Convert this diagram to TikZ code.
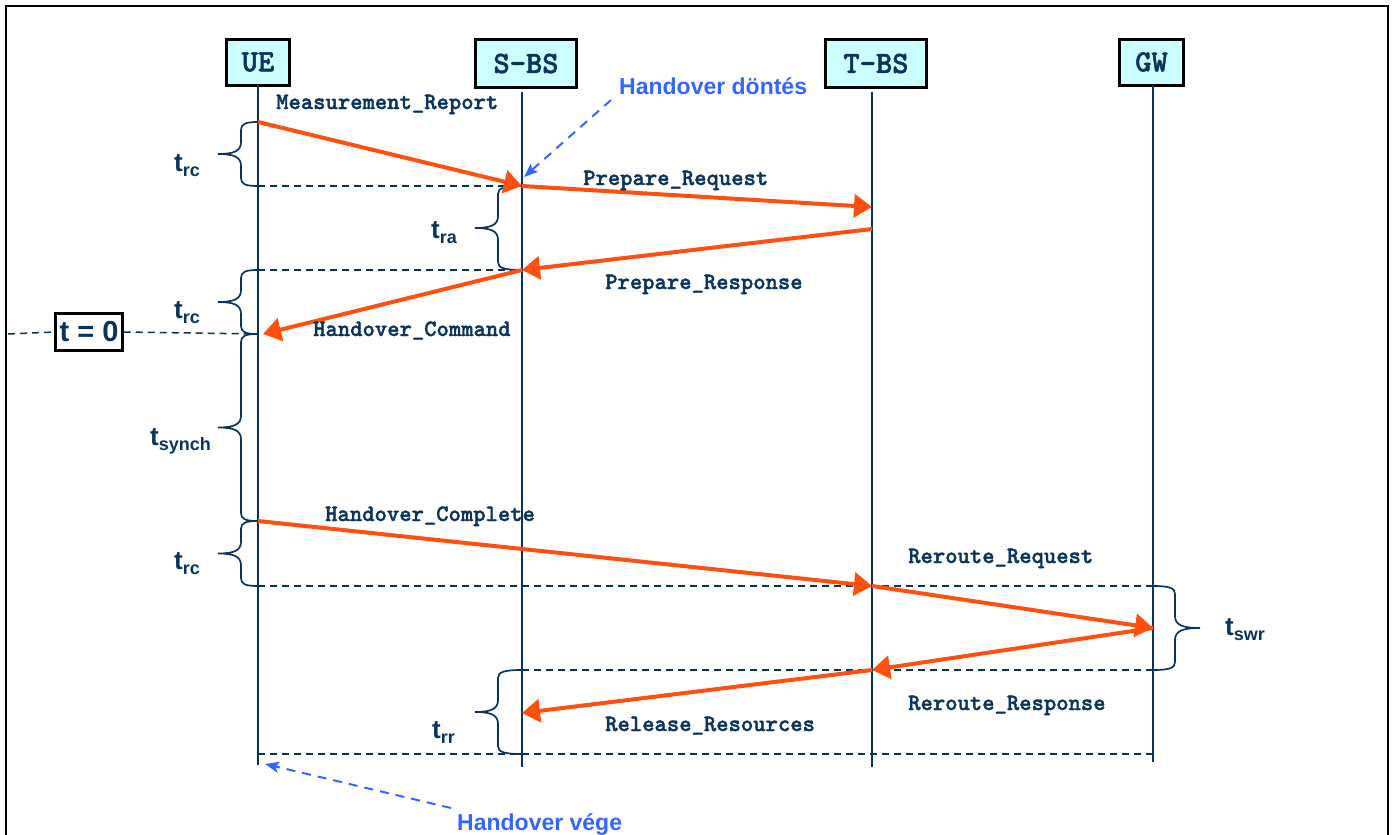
\documentclass[tikz,border=0pt]{standalone}
\usepackage{fontspec}
\setmainfont{Liberation Sans}
\newfontfamily\msgfont{lmmonolt10-bold.otf}[FakeBold=1.6]
\usetikzlibrary{arrows.meta}

\definecolor{navy}{RGB}{10,52,92}
\definecolor{msgorange}{RGB}{255,80,16}
\definecolor{noteblue}{RGB}{51,102,255}
\definecolor{headfill}{RGB}{204,255,255}

% time label: bold t with a lowered subscript
\newcommand{\tlab}[1]{t\raisebox{-5pt}{\fontsize{18}{20}\selectfont #1}}

\tikzset{
  entity/.style={draw=black, line width=3pt, fill=headfill, text=navy,
    font=\msgfont\fontsize{31}{34}\selectfont, inner sep=0pt, outer sep=0pt},
  lifeline/.style={navy, line width=1.8pt},
  msg/.style={msgorange, line width=4pt, -{Triangle[length=18pt,width=23pt]}},
  guide/.style={navy, line width=1.5pt, dash pattern=on 7pt off 5pt},
  msglabel/.style={text=navy, font=\msgfont\fontsize{23.5}{25}\selectfont, inner sep=0pt},
  bracepen/.style={navy, line width=1.7pt},
  timelabel/.style={text=navy, font=\bfseries\fontsize{26}{28}\selectfont, inner sep=0pt},
  note/.style={noteblue, line width=2pt, dash pattern=on 9pt off 7pt,
    -{Stealth[length=14pt,width=11pt,inset=3pt]}},
  notelabel/.style={text=noteblue, font=\bfseries\fontsize{23}{25}\selectfont, inner sep=0pt},
  zerobox/.style={draw=black, line width=2.5pt, fill=white, text=navy,
    font=\bfseries\fontsize{29}{31}\selectfont, minimum width=67pt, minimum height=37pt,
    inner sep=0pt},
  frame/.style={black, line width=2.5pt},
  % curly brace hanging off a lifeline: #1 length, #2 offset of the straight part, #3 offset of the tip
  pics/tbrace/.style n args={3}{code={
    \draw[bracepen] (0,0) .. controls ({0.75*(#2)},0) and ({#2},2) .. ({#2},8)
      -- ({#2},{#1/2-12}) .. controls ({#2},{#1/2-3}) and ({0.7*(#2)+0.3*(#3)},{#1/2}) .. ({#3},{#1/2})
      .. controls ({0.7*(#2)+0.3*(#3)},{#1/2}) and ({#2},{#1/2+3}) .. ({#2},{#1/2+12})
      -- ({#2},{#1-8}) .. controls ({#2},{#1-2}) and ({0.75*(#2)},{#1}) .. (0,{#1});
  }},
}

\begin{document}
\begin{tikzpicture}[x=1pt,y=-1pt]
\useasboundingbox (0,0) rectangle (1392,835);

% outer frame (open at the bottom)
\draw[frame] (6,835) -- (6,6) -- (1388,6) -- (1388,835);

% participants
\node[entity, minimum width=63pt, minimum height=46pt] (UE) at (258,62) {UE};
\node[entity, minimum width=101pt, minimum height=48pt] (SBS) at (526,63.5) {S-BS};
\node[entity, minimum width=101pt, minimum height=48pt] (TBS) at (876,63.5) {T-BS};
\node[entity, minimum width=64pt, minimum height=46pt] (GW) at (1151.5,62) {GW};

% lifeline ends
\coordinate (ue-end) at (258,765);
\coordinate (sbs-end) at (522,767);
\coordinate (tbs-end) at (872,767);
\coordinate (gw-end) at (1153,762);

% message events on the lifelines
\coordinate (ue1) at (258,122);
\coordinate (sb1) at (522,186);
\coordinate (tb1) at (872,207);
\coordinate (tb2) at (872,229);
\coordinate (sb2) at (522,270);
\coordinate (ue2) at (258,334);
\coordinate (ue2tip) at (263,334);
\coordinate (ue3) at (258,521);
\coordinate (tb3) at (872,586);
\coordinate (gw1) at (1153,628);
\coordinate (tb4) at (872,670);
\coordinate (sb3) at (522,713);
\coordinate (end-ue) at (258,754);
\coordinate (end-gw) at (1153,754);
\coordinate (axis-start) at (8,334);

% lifelines
\draw[lifeline] (UE.south -| ue-end) -- (ue-end);
\draw[lifeline] ([yshift=-4pt]SBS.south -| sbs-end) -- (sbs-end);
\draw[lifeline] ([yshift=-4pt]TBS.south -| tbs-end) -- (tbs-end);
\draw[lifeline] (GW.south -| gw-end) -- (gw-end);

% dashed time guides
\node[zerobox] (tzero) at (89,332) {t = 0};
\draw[guide] (axis-start) -- (tzero.west);
\draw[guide] (tzero.east) -- (ue2);
\draw[guide] (ue1 |- sb1) -- (sb1);
\draw[guide] (ue1 |- sb2) -- (sb2);
\draw[guide] (ue1 |- tb3) -- (gw1 |- tb3);
\draw[guide] (sb1 |- tb4) -- (gw1 |- tb4);
\draw[guide] (end-ue) -- (end-gw);

% braces
\pic at (ue1) {tbrace={64}{-17}{-40}};
\pic at (sb1) {tbrace={84}{-24}{-47}};
\pic at (ue1 |- sb2) {tbrace={64}{-17}{-40}};
\pic at (ue2) {tbrace={187}{-17}{-40}};
\pic at (ue3) {tbrace={65}{-17}{-40}};
\pic at (gw1 |- tb3) {tbrace={84}{22}{47}};
\pic at (sb1 |- tb4) {tbrace={84}{-24}{-47}};

% time labels
\node[timelabel, anchor=base east] (l-rc1) at (200,171) {\tlab{rc}};
\node[timelabel, anchor=base east] (l-ra) at (457,238) {\tlab{ra}};
\node[timelabel, anchor=base east] (l-rc2) at (200,318) {\tlab{rc}};
\node[timelabel, anchor=base east] (l-synch) at (211,445) {\tlab{synch}};
\node[timelabel, anchor=base east] (l-rc3) at (200,569) {\tlab{rc}};
\node[timelabel, anchor=base west] (l-swr) at (1225,635) {\tlab{swr}};
\node[timelabel, anchor=base east] (l-rr) at (455,738) {\tlab{rr}};

% messages
\draw[msg] (ue1) -- (sb1);
\draw[msg] (sb1) -- (tb1);
\draw[msg] (tb2) -- (sb2);
\draw[msg] (sb2) -- (ue2tip);
\draw[msg] (ue3) -- (tb3);
\draw[msg] (tb3) -- (gw1);
\draw[msg] (gw1) -- (tb4);
\draw[msg] (tb4) -- (sb3);

% message labels
\node[msglabel, anchor=base west] (m1) at (276,109) {Measurement\_Report};
\node[msglabel, anchor=base west] (m2) at (583,185) {Prepare\_Request};
\node[msglabel, anchor=base west] (m3) at (605,289) {Prepare\_Response};
\node[msglabel, anchor=base west] (m4) at (313,336) {Handover\_Command};
\node[msglabel, anchor=base west] (m5) at (325,521) {Handover\_Complete};
\node[msglabel, anchor=base west] (m6) at (908,563) {Reroute\_Request};
\node[msglabel, anchor=base west] (m7) at (908,710) {Reroute\_Response};
\node[msglabel, anchor=base west] (m8) at (605,731) {Release\_Resources};

% annotations
\node[notelabel, anchor=base west] (decision) at (619,94) {Handover döntés};
\node[notelabel, anchor=base west] (finish) at (457,830) {Handover vége};
\coordinate (decision-tail) at (611,100);
\coordinate (decision-tip) at (524,177);
\coordinate (finish-tail) at (451,808);
\coordinate (finish-tip) at (265,764);
\draw[note] (decision-tail) -- (decision-tip);
\draw[note] (finish-tail) -- (finish-tip);
\end{tikzpicture}
\end{document}
